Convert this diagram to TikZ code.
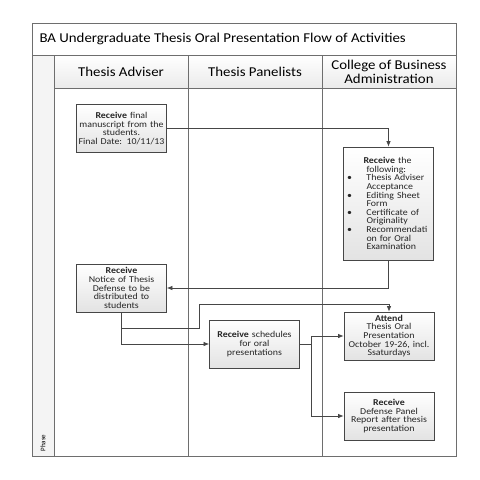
\documentclass[tikz,border=0pt]{standalone}
\usepackage{fontspec}
\setmainfont{Carlito}
\newfontfamily\widefont[FakeStretch=1.1]{Carlito}
\usetikzlibrary{arrows.meta}
\usetikzlibrary{positioning}
\definecolor{lanegray}{RGB}{110,110,110}
\definecolor{linegray}{RGB}{70,70,70}
\tikzset{
  lane/.style={draw=lanegray, line width=0.7pt},
  head/.style={font=\widefont\fontsize{13.5}{14}\selectfont, align=center},
  stepbox/.style={draw=linegray, line width=0.8pt, top color=white, bottom color=gray!22,
    minimum width=90pt, minimum height=48pt, text width=86pt, align=center, inner sep=1.5pt,
    text=black!85, font=\widefont\fontsize{9}{8.6}\selectfont},
  flow/.style={draw=linegray, line width=0.7pt, -{Latex[length=5.5pt,width=4.5pt]}}
}

\begin{document}
\begin{tikzpicture}[x=1pt, y=-1pt]
  \useasboundingbox (0,0) rectangle (480,480);

  % frame, title row and lanes
  \draw [lane, fill=white] (32,23) rectangle (456,55);
  \node [head, anchor=west] (title) at (36,39) {BA Undergraduate Thesis Oral Presentation Flow of Activities};
  \draw [lane, fill=gray!9] (32,55) rectangle (54,456);
  \foreach \x/\name/\txt in {54/adviser/Thesis Adviser, 188/panel/Thesis Panelists, 322/college/{College of Business\\Administration}} {
    \draw [lane, top color=white, bottom color=gray!16] (\x,55) rectangle ++(134,33);
    \node [head] (\name) at (\x+67,71.5) {\txt};
    \draw [lane, fill=white] (\x,88) rectangle ++(134,368);
  }
  \node [rotate=90, font=\fontsize{7}{7}\selectfont] (phase) at (43,443) {Phase};

  % activities
  \node [stepbox] (final) at (121.5,128.5) {\textbf{Receive} final\\manuscript from the\\students.\\Final Date: 10/11/13};
  \node [stepbox, minimum height=113pt, align=left] (following) at (388.5,203.5) {%
    \hspace*{18pt}\textbf{Receive} the\\
    \hspace*{21pt}following:\\
    \makebox[21pt][l]{\,\textbullet}Thesis Adviser\\
    \hspace*{21pt}Acceptance\\
    \makebox[21pt][l]{\,\textbullet}Editing Sheet\\
    \hspace*{21pt}Form\\
    \makebox[21pt][l]{\,\textbullet}Certificate of\\
    \hspace*{21pt}Originality\\
    \makebox[21pt][l]{\,\textbullet}Recommendati\\
    \hspace*{21pt}on for Oral\\
    \hspace*{21pt}Examination};
  \node [stepbox] (notice) at (121.5,288) {\textbf{Receive}\\Notice of Thesis\\Defense to be\\distributed to\\students};
  \node [stepbox] (sched) at (254.5,344) {\textbf{Receive} schedules\\for oral\\presentations};
  \node [stepbox] (attend) at (389,336) {\textbf{Attend}\\Thesis Oral\\Presentation\\October 19-26, incl.\\Ssaturdays};
  \node [stepbox] (defense) at (389,416) {\textbf{Receive}\\Defense Panel\\Report after thesis\\presentation};

  % connectors
  \coordinate (bend) at (199,304);
  \draw [flow] (final.east) -| (following.north);
  \draw [flow] (following.south) |- (notice.east);
  \draw [flow] (notice.south) -- ++(0,16) -| (bend) -| (attend.north);
  \draw [flow] (notice.south) |- (sched.west);
  \draw [draw=linegray, line width=0.7pt] (sched.east) -- ++(11,0) coordinate (split);
  \draw [flow] (split) |- (attend.west);
  \draw [flow] (split) |- (defense.west);
\end{tikzpicture}
\end{document}
